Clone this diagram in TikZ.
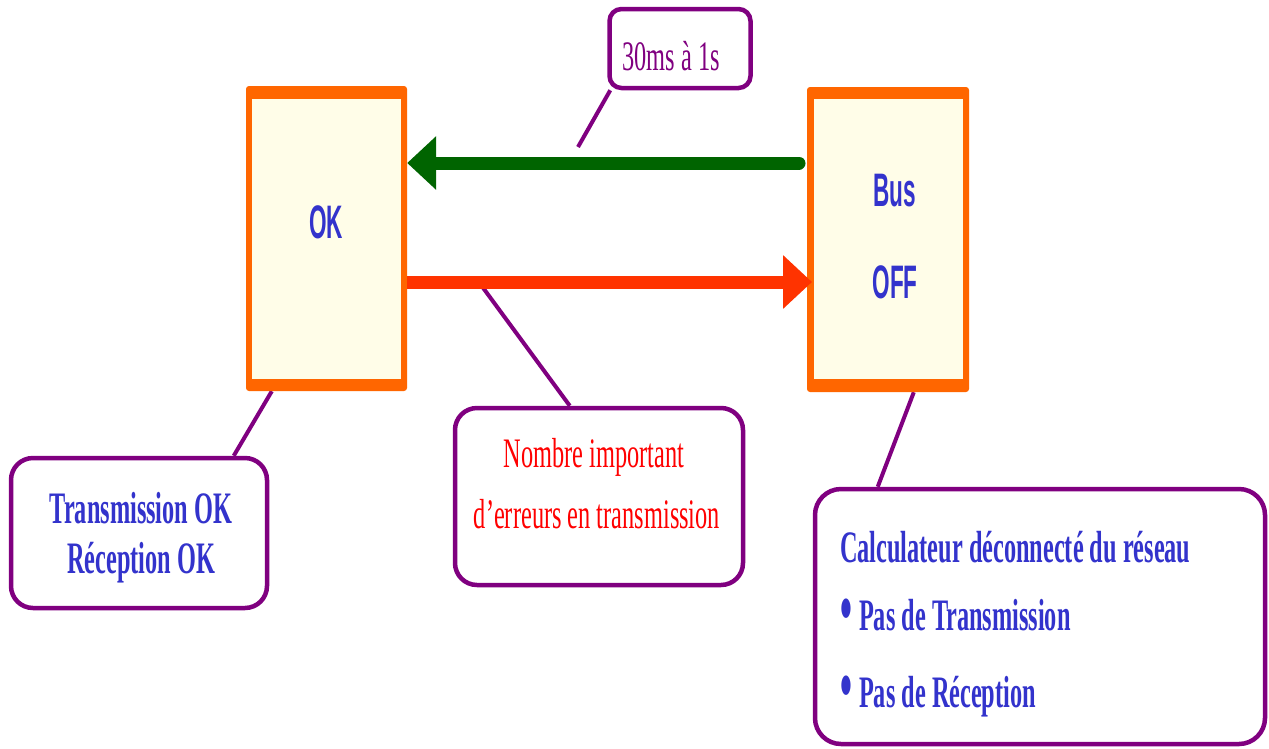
\documentclass[tikz,border=0pt]{standalone}
\usepackage{fontspec}
\usetikzlibrary{arrows.meta,calc}

% condensed faces used for all labels
\newfontfamily\serifcond[FakeStretch=0.58]{Liberation Serif}
\newfontfamily\boldcond[FakeStretch=0.54]{Liberation Serif}
\newfontfamily\sanscond[FakeStretch=0.48]{Liberation Sans}

\definecolor{boxorange}{HTML}{FF6600}
\definecolor{boxcream}{HTML}{FFFDE8}
\definecolor{callpurple}{HTML}{800080}
\definecolor{textblue}{HTML}{3333CC}
\definecolor{arrowgreen}{HTML}{006400}
\definecolor{arrowred}{HTML}{FF3300}

\pgfdeclarelayer{paper}
\pgfdeclarelayer{back}
\pgfsetlayers{paper,back,main}

\tikzset{
  statebox/.style={fill=boxorange, rounded corners=3pt, inner sep=0pt},
  statetext/.style={text=textblue, inner sep=0pt,
    font=\sanscond\bfseries\fontsize{47}{50}\selectfont},
  callout/.style={draw=callpurple, line width=4.5pt, fill=white,
    rounded corners=#1, inner sep=0pt},
  callout/.default=20pt,
  leader/.style={draw=callpurple, line width=4pt},
  bluebold/.style={text=textblue, inner sep=0pt,
    font=\boldcond\bfseries\fontsize{45}{50}\selectfont},
  redtext/.style={text=red, inner sep=0pt,
    font=\serifcond\fontsize{42}{46}\selectfont},
  purpletext/.style={text=callpurple, inner sep=0pt,
    font=\serifcond\fontsize{42}{46}\selectfont},
  greenarrow/.style={draw=arrowgreen, line width=13pt, line cap=round,
    -{Triangle[length=29pt,width=52pt]}},
  redarrow/.style={draw=arrowred, line width=13pt,
    -{Triangle[length=29pt,width=52pt]}},
}
\newcommand{\itembullet}{\raisebox{-2pt}{\scalebox{1.4}[1.6]{•}}\hspace{7pt}}

\begin{document}
\begin{tikzpicture}[x=1pt,y=-1pt]
\begin{pgfonlayer}{paper}
  \fill[white] (0,0) rectangle (1269,748);
\end{pgfonlayer}
\useasboundingbox (0,0) rectangle (1269,748);

% the two bus states
\node[statebox, minimum width=161pt, minimum height=305pt] (ok) at (326.5,238.5) {};
\node[statebox, minimum width=162pt, minimum height=305pt] (bus) at (888,239.5) {};
\fill[boxcream] ($(ok.north west)+(6.5,13)$) rectangle ($(ok.south east)+(-6,-12)$);
\fill[boxcream] ($(bus.north west)+(7,12)$) rectangle ($(bus.south east)+(-6,-13)$);
\node[statetext] (oklabel) at (326,222.5) {OK};
\node[statetext] (buslabel) at (895,191) {Bus};
\node[statetext] (offlabel) at (895,282.5) {OFF};

% transitions
\coordinate (gtail) at (799,163);
\coordinate (rtip) at (812,282);
\draw[greenarrow] (gtail) -- (ok.east |- gtail);
\draw[redarrow] (ok.east |- rtip) -- (rtip);

% callouts
\node[callout=12pt, minimum width=141pt, minimum height=79pt] (c30) at (680,48.5) {};
\node[purpletext, anchor=base] (t30) at (671,70) {30ms à 1s};

\node[callout=22pt, minimum width=256pt, minimum height=150pt] (ctx) at (139,533) {};
\node[bluebold, anchor=base] (tx1) at (141,523) {Transmission OK};
\node[bluebold, anchor=base] (tx2) at (141,573) {Réception OK};

\node[callout=22pt, minimum width=288pt, minimum height=177pt] (cerr) at (599,496.5) {};
\node[redtext, anchor=base] (err1) at (594,467) {Nombre important};
\node[redtext, anchor=base] (err2) at (597,528) {d’erreurs en transmission};

\node[callout=26pt, minimum width=450pt, minimum height=255pt] (ccalc) at (1040,616.5) {};
\node[bluebold, anchor=base west] (calc1) at (840,562) {Calculateur déconnecté du réseau};
\node[bluebold, anchor=base west] (calc2) at (840,630) {\itembullet Pas de Transmission};
\node[bluebold, anchor=base west] (calc3) at (840,707) {\itembullet Pas de Réception};

% leader lines, kept behind the boxes
\coordinate (lead30) at (578,147);
\coordinate (leaderr) at (481,285);
\begin{pgfonlayer}{back}
  \draw[leader] ($(c30.south west)+(3,0)$) -- (lead30);
  \draw[leader] ($(ok.south west)+(26,0)$) -- ($(ctx.north west)+(225,0)$);
  \draw[leader] ($(cerr.north west)+(117,0)$) -- (leaderr);
  \draw[leader] ($(bus.south west)+(107,0)$) -- ($(ccalc.north west)+(65,0)$);
\end{pgfonlayer}
\end{tikzpicture}
\end{document}
